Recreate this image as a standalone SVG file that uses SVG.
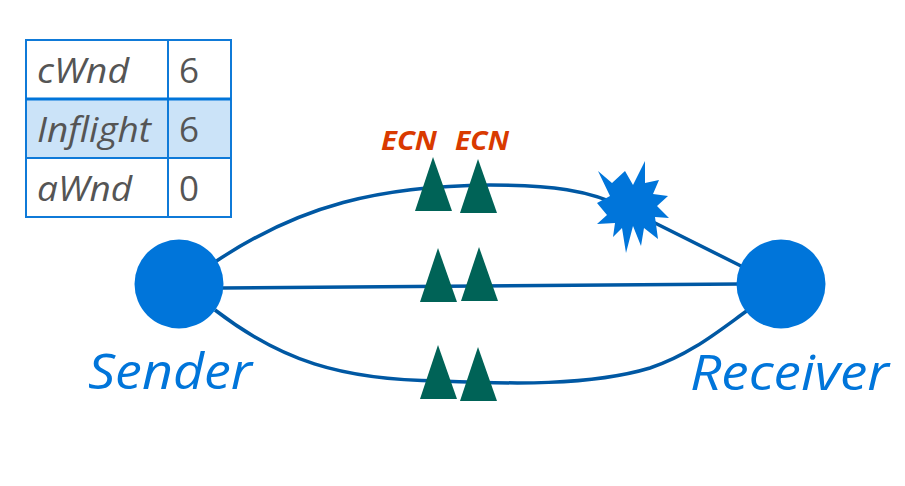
<svg xmlns="http://www.w3.org/2000/svg" width="905" height="486" viewBox="0 0 905 486">
<style>
.link{fill:none;stroke:#0058a3;stroke-width:3.5}
.pkt{fill:#006357}
.host{fill:#0075da}
.cell{font:italic 35px "Open Sans",Lato,sans-serif;fill:#555}
.num{font:35px "Open Sans",Lato,sans-serif;fill:#555}
.grid{stroke:#0f7ad8;stroke-width:2;fill:none}
.ecn{font:italic bold 26px "Open Sans",Lato,sans-serif;fill:#d93a00}
.name{font:italic 49px "Open Sans",Lato,sans-serif;fill:#0075da}
</style>
<rect width="905" height="486" fill="#fff"/>
<g id="connectors">
<path class="link" d="M215 262C300 205 380 186 490 185C550 185 590 190 625 208L745 268"/>
<path class="link" d="M222 288L740 284"/>
<path class="link" d="M215 310C280 360 340 380 440 381C510 384 590 386 650 368C690 355 720 330 748 310"/>
</g>
<g id="table">
<rect x="26" y="99" width="205" height="59" fill="#cbe3f8"/>
<path class="grid" d="M26 40H231V217H26ZM168 40V217M26 158H231"/>
<path d="M26 99H231" stroke="#0075da" stroke-width="3"/>
<text class="cell" x="37" y="83" textLength="92" lengthAdjust="spacingAndGlyphs">cWnd</text><text class="num" x="179" y="83">6</text>
<text class="cell" x="37" y="142" textLength="114" lengthAdjust="spacingAndGlyphs">Inflight</text><text class="num" x="179" y="142">6</text>
<text class="cell" x="37" y="201" textLength="95" lengthAdjust="spacingAndGlyphs">aWnd</text><text class="num" x="179" y="201">0</text>
</g>
<g id="sender"><circle class="host" cx="179" cy="284" r="44.5"/><text class="name" x="88" y="389" textLength="164" lengthAdjust="spacingAndGlyphs">Sender</text></g>
<g id="receiver"><circle class="host" cx="781" cy="284" r="44.5"/><text class="name" x="690" y="390" textLength="199" lengthAdjust="spacingAndGlyphs">Receiver</text></g>
<g id="ecn-labels"><text class="ecn" x="381" y="150" textLength="56" lengthAdjust="spacingAndGlyphs">ECN</text><text class="ecn" x="455" y="150" textLength="54" lengthAdjust="spacingAndGlyphs">ECN</text></g>
<g id="packets">
<polygon class="pkt" points="433,157 452,211 415,211"/>
<polygon class="pkt" points="478,159 497,213 460,213"/>
<polygon class="pkt" points="438,248 457,302 420,302"/>
<polygon class="pkt" points="479,247 498,301 461,301"/>
<polygon class="pkt" points="438,345 457,399 420,399"/>
<polygon class="pkt" points="478,347 497,401 460,401"/>
</g>
<g id="loss"><polygon class="host" points="598,171 612,183 625,171 633,185 645,161 645,183 659,180 653,194 668,196 657,206 669,218 655,217 658,239 644,228 641,246 633,226 626,253 622,228 613,237 615,223 597,224 607,215 597,203 610,196"/></g>
</svg>
